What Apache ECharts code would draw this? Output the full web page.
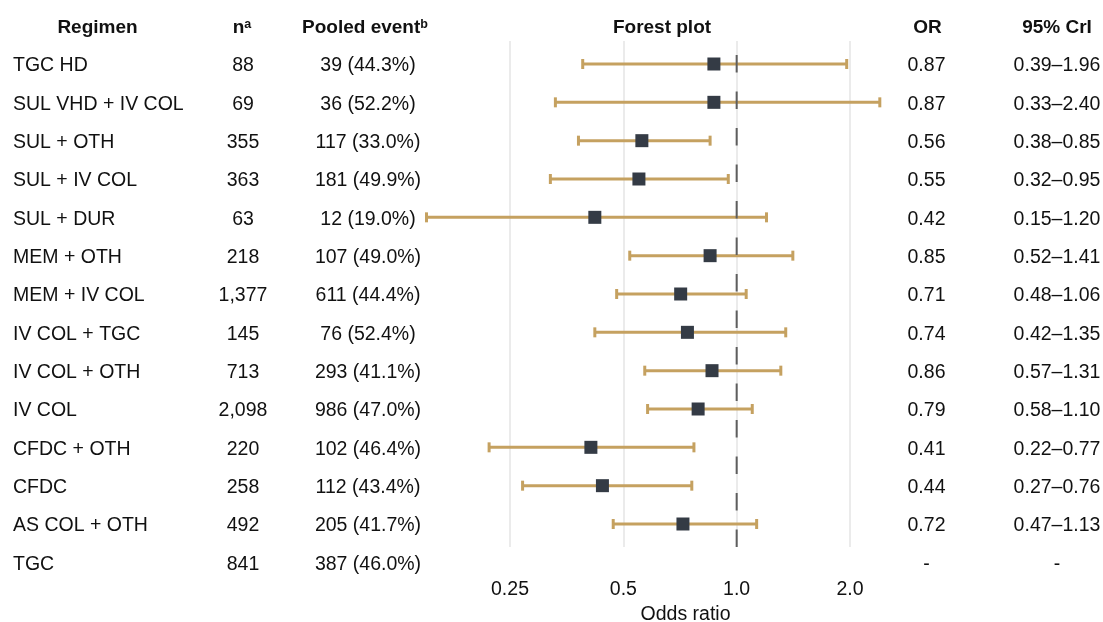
<!DOCTYPE html>
<html>
<head>
<meta charset="utf-8">
<script src="https://cdn.jsdelivr.net/npm/echarts@6/dist/echarts.min.js"></script>
<style>
html,body{margin:0;padding:0;background:#fff;}
#chart{width:1103px;height:622px;}
</style>
</head>
<body>
<div id="chart"></div>
<script>
// ---- data ----
var regimens = ['TGC HD','SUL VHD + IV COL','SUL + OTH','SUL + IV COL','SUL + DUR','MEM + OTH','MEM + IV COL','IV COL + TGC','IV COL + OTH','IV COL','CFDC + OTH','CFDC','AS COL + OTH','TGC'];
var nValues = [88,69,355,363,63,218,1377,145,713,2098,220,258,492,841];
var events = [39,36,117,181,12,107,611,76,293,986,102,112,205,387];
var eventPct = [44.3,52.2,33.0,49.9,19.0,49.0,44.4,52.4,41.1,47.0,46.4,43.4,41.7,46.0];
var oddsRatio = [0.87,0.87,0.56,0.55,0.42,0.85,0.71,0.74,0.86,0.79,0.41,0.44,0.72,null];
var crLower = [0.39,0.33,0.38,0.32,0.15,0.52,0.48,0.42,0.57,0.58,0.22,0.27,0.47,null];
var crUpper = [1.96,2.40,0.85,0.95,1.20,1.41,1.06,1.35,1.31,1.10,0.77,0.76,1.13,null];
var xTickValues = [0.25,0.5,1,2];
var xTickLabels = ['0.25','0.5','1.0','2.0'];
var referenceOR = 1;

// ---- styles ----
var FONT = "'Liberation Sans', Arial, sans-serif";
var FS = 19.5;
var FSB = 19;
var TXT = '#111111';
var CI_COLOR = '#c5a160';
var MARK_COLOR = '#343b45';
var TEXT_DY = 2;

function lg(v){ return Math.log(v)/Math.LN2; }

var ciData = [], markData = [], rowData = [];
for (var i = 0; i < regimens.length; i++) {
  rowData.push([0, i]);
  if (oddsRatio[i] != null) {
    ciData.push([lg(crLower[i]), lg(crUpper[i]), i]);
    markData.push([lg(oddsRatio[i]), i]);
  }
}

var cols = [
  {x: 13, align: 'left'},
  {x: 243, align: 'center'},
  {x: 368, align: 'center'},
  {x: 926.5, align: 'center'},
  {x: 1057, align: 'center'}
];

function rowTexts(i) {
  return [
    regimens[i],
    nValues[i].toLocaleString('en-US'),
    events[i] + ' (' + eventPct[i].toFixed(1) + '%)',
    oddsRatio[i] == null ? '-' : oddsRatio[i].toFixed(2),
    oddsRatio[i] == null ? '-' : (crLower[i].toFixed(2) + '\u2013' + crUpper[i].toFixed(2))
  ];
}

var chart = echarts.init(document.getElementById('chart'));
var option = {
  animation: false,
  backgroundColor: '#ffffff',
  grid: {left: 396.67, right: 139.67, top: 41, bottom: 75, containLabel: false, outerBoundsMode: 'none'},
  xAxis: {
    type: 'value', min: -3, max: 2, interval: 1,
    axisLine: {show: false}, axisTick: {show: false},
    axisLabel: {
      showMinLabel: false, showMaxLabel: false, margin: 33,
      fontFamily: FONT, fontSize: FS, color: TXT,
      formatter: function (v) {
        for (var k = 0; k < xTickValues.length; k++) {
          if (Math.abs(lg(xTickValues[k]) - v) < 1e-9) return xTickLabels[k];
        }
        return '';
      }
    },
    splitLine: {show: true, showMinLine: false, showMaxLine: false, lineStyle: {color: '#ebebeb', width: 2}},
    name: 'Odds ratio', nameLocation: 'middle', nameGap: 57,
    nameTextStyle: {fontFamily: FONT, fontSize: FS, color: TXT, padding: [0, 0, 0, 11]}
  },
  yAxis: {
    type: 'value', inverse: true, min: -0.6, max: 12.6,
    axisLine: {show: false}, axisTick: {show: false}, axisLabel: {show: false}, splitLine: {show: false}
  },
  series: [
    {
      type: 'custom', z: 2, data: ciData,
      encode: {x: [0, 1], y: 2},
      renderItem: function (params, api) {
        var p1 = api.coord([api.value(0), api.value(2)]);
        var p2 = api.coord([api.value(1), api.value(2)]);
        var st = {stroke: CI_COLOR, lineWidth: 3};
        var h = 5;
        return {
          type: 'group',
          children: [
            {type: 'line', shape: {x1: p1[0], y1: p1[1], x2: p2[0], y2: p2[1]}, style: st},
            {type: 'line', shape: {x1: p1[0], y1: p1[1] - h, x2: p1[0], y2: p1[1] + h}, style: st},
            {type: 'line', shape: {x1: p2[0], y1: p2[1] - h, x2: p2[0], y2: p2[1] + h}, style: st}
          ]
        };
      }
    },
    {
      type: 'line', z: 3, symbol: 'none',
      data: [[lg(referenceOR), 12.6], [lg(referenceOR), -0.6]],
      lineStyle: {color: '#5e5e5e', width: 2, type: [17.5, 19]}
    },
    {
      type: 'scatter', z: 4, symbol: 'rect', symbolSize: 13,
      itemStyle: {color: MARK_COLOR, opacity: 1}, data: markData
    },
    {
      type: 'custom', z: 5, data: rowData,
      renderItem: function (params, api) {
        var r = api.value(1);
        var y = api.coord([0, r])[1] + TEXT_DY;
        var t = rowTexts(r);
        var ch = [];
        for (var c = 0; c < cols.length; c++) {
          ch.push({type: 'text', x: cols[c].x, y: y, style: {
            text: t[c], fontFamily: FONT, fontSize: FS, fill: TXT,
            align: cols[c].align, verticalAlign: 'middle'
          }});
        }
        return {type: 'group', children: ch};
      }
    },
    {
      type: 'custom', z: 5, data: [[0, -1]],
      renderItem: function (params, api) {
        var y = api.coord([0, api.value(1)])[1] + TEXT_DY;
        var bold = {fontFamily: FONT, fontSize: FSB, fontWeight: 'bold', fill: TXT, verticalAlign: 'middle'};
        function mk(x, text, rich) {
          var s = Object.assign({}, bold, {text: text, align: 'center'});
          if (rich) s.rich = rich;
          return {type: 'text', x: x, y: y, style: s};
        }
        var rich = {
          b: {fontFamily: FONT, fontSize: FSB, fontWeight: 'bold', color: TXT},
          sup: {fontFamily: FONT, fontSize: 12.5, fontWeight: 'bold', color: TXT, verticalAlign: 'top'}
        };
        return {type: 'group', children: [
          mk(97.5, 'Regimen'),
          mk(242, '{b|n}{sup|a}', rich),
          mk(365, '{b|Pooled event}{sup|b}', rich),
          mk(662, 'Forest plot'),
          mk(927.5, 'OR'),
          mk(1057, '95% CrI')
        ]};
      }
    }
  ]
};
chart.setOption(option);
</script>
</body>
</html>
